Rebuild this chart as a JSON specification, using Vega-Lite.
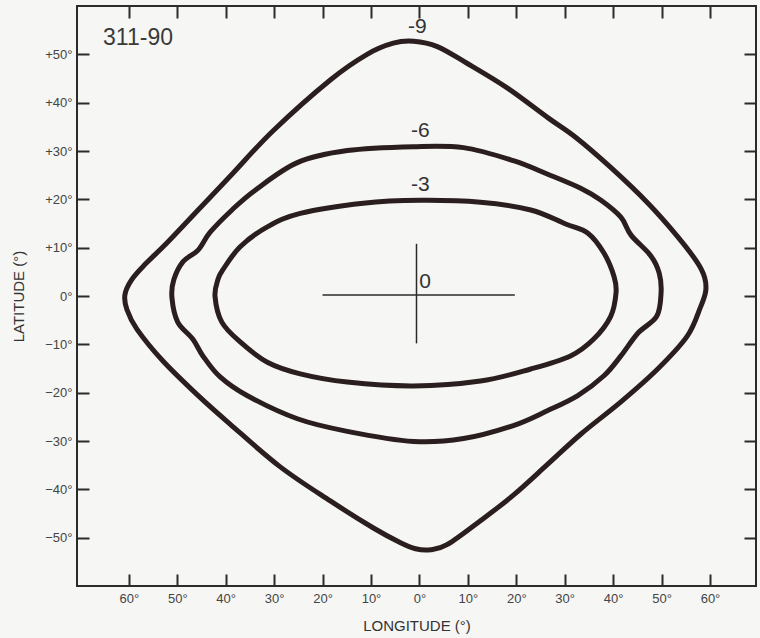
{
  "$schema": "https://vega.github.io/schema/vega-lite/v6.json",
  "width": 679,
  "height": 580,
  "autosize": {"type": "none"},
  "padding": {"left": 77, "top": 6, "right": 4, "bottom": 52},
  "background": "#f6f6f4",
  "config": {
    "view": {"stroke": "#2b2b2b", "strokeWidth": 2},
    "font": "Liberation Sans",
    "axis": {"grid": false, "domain": false}
  },
  "datasets": {
    "contours": [
      {"c": "-9", "i": 0, "lon": -60.8, "lat": 0.3},
      {"c": "-9", "i": 1, "lon": -59.4, "lat": 3.4},
      {"c": "-9", "i": 2, "lon": -56.7, "lat": 6.5},
      {"c": "-9", "i": 3, "lon": -52.1, "lat": 11.0},
      {"c": "-9", "i": 4, "lon": -45.3, "lat": 18.2},
      {"c": "-9", "i": 5, "lon": -38.5, "lat": 25.4},
      {"c": "-9", "i": 6, "lon": -30.2, "lat": 34.2},
      {"c": "-9", "i": 7, "lon": -18.4, "lat": 44.7},
      {"c": "-9", "i": 8, "lon": -10.8, "lat": 50.0},
      {"c": "-9", "i": 9, "lon": -5.4, "lat": 52.3},
      {"c": "-9", "i": 10, "lon": -1.2, "lat": 52.7},
      {"c": "-9", "i": 11, "lon": 3.7, "lat": 51.6},
      {"c": "-9", "i": 12, "lon": 9.9, "lat": 48.1},
      {"c": "-9", "i": 13, "lon": 18.2, "lat": 43.0},
      {"c": "-9", "i": 14, "lon": 26.5, "lat": 36.9},
      {"c": "-9", "i": 15, "lon": 32.3, "lat": 32.8},
      {"c": "-9", "i": 16, "lon": 39.5, "lat": 26.6},
      {"c": "-9", "i": 17, "lon": 47.2, "lat": 19.2},
      {"c": "-9", "i": 18, "lon": 53.4, "lat": 12.2},
      {"c": "-9", "i": 19, "lon": 57.4, "lat": 6.9},
      {"c": "-9", "i": 20, "lon": 58.9, "lat": 3.8},
      {"c": "-9", "i": 21, "lon": 59.1, "lat": 0.9},
      {"c": "-9", "i": 22, "lon": 58.0, "lat": -2.4},
      {"c": "-9", "i": 23, "lon": 55.3, "lat": -8.3},
      {"c": "-9", "i": 24, "lon": 49.2, "lat": -15.1},
      {"c": "-9", "i": 25, "lon": 41.6, "lat": -21.9},
      {"c": "-9", "i": 26, "lon": 33.3, "lat": -28.6},
      {"c": "-9", "i": 27, "lon": 26.5, "lat": -34.8},
      {"c": "-9", "i": 28, "lon": 19.4, "lat": -41.2},
      {"c": "-9", "i": 29, "lon": 12.6, "lat": -46.5},
      {"c": "-9", "i": 30, "lon": 5.8, "lat": -51.4},
      {"c": "-9", "i": 31, "lon": 2.3, "lat": -52.5},
      {"c": "-9", "i": 32, "lon": -0.8, "lat": -52.3},
      {"c": "-9", "i": 33, "lon": -4.0, "lat": -51.0},
      {"c": "-9", "i": 34, "lon": -9.5, "lat": -48.0},
      {"c": "-9", "i": 35, "lon": -18.4, "lat": -42.4},
      {"c": "-9", "i": 36, "lon": -28.8, "lat": -35.3},
      {"c": "-9", "i": 37, "lon": -39.1, "lat": -26.5},
      {"c": "-9", "i": 38, "lon": -45.9, "lat": -20.4},
      {"c": "-9", "i": 39, "lon": -53.0, "lat": -13.4},
      {"c": "-9", "i": 40, "lon": -58.3, "lat": -6.9},
      {"c": "-9", "i": 41, "lon": -60.4, "lat": -2.8},
      {"c": "-6", "i": 0, "lon": -51.1, "lat": -0.3},
      {"c": "-6", "i": 1, "lon": -50.7, "lat": 3.4},
      {"c": "-6", "i": 2, "lon": -48.8, "lat": 7.1},
      {"c": "-6", "i": 3, "lon": -45.7, "lat": 9.5},
      {"c": "-6", "i": 4, "lon": -43.2, "lat": 13.2},
      {"c": "-6", "i": 5, "lon": -38.7, "lat": 17.8},
      {"c": "-6", "i": 6, "lon": -33.9, "lat": 21.9},
      {"c": "-6", "i": 7, "lon": -25.2, "lat": 27.6},
      {"c": "-6", "i": 8, "lon": -14.9, "lat": 30.1},
      {"c": "-6", "i": 9, "lon": -1.2, "lat": 30.9},
      {"c": "-6", "i": 10, "lon": 9.1, "lat": 30.7},
      {"c": "-6", "i": 11, "lon": 19.4, "lat": 28.0},
      {"c": "-6", "i": 12, "lon": 26.5, "lat": 25.2},
      {"c": "-6", "i": 13, "lon": 33.3, "lat": 22.3},
      {"c": "-6", "i": 14, "lon": 37.5, "lat": 19.8},
      {"c": "-6", "i": 15, "lon": 41.6, "lat": 16.3},
      {"c": "-6", "i": 16, "lon": 43.7, "lat": 12.6},
      {"c": "-6", "i": 17, "lon": 47.8, "lat": 8.3},
      {"c": "-6", "i": 18, "lon": 49.5, "lat": 4.8},
      {"c": "-6", "i": 19, "lon": 49.9, "lat": 0.7},
      {"c": "-6", "i": 20, "lon": 49.0, "lat": -4.2},
      {"c": "-6", "i": 21, "lon": 45.1, "lat": -7.7},
      {"c": "-6", "i": 22, "lon": 41.6, "lat": -12.4},
      {"c": "-6", "i": 23, "lon": 38.1, "lat": -16.5},
      {"c": "-6", "i": 24, "lon": 32.7, "lat": -20.6},
      {"c": "-6", "i": 25, "lon": 26.5, "lat": -23.7},
      {"c": "-6", "i": 26, "lon": 19.4, "lat": -26.8},
      {"c": "-6", "i": 27, "lon": 9.1, "lat": -29.5},
      {"c": "-6", "i": 28, "lon": -1.2, "lat": -30.1},
      {"c": "-6", "i": 29, "lon": -14.9, "lat": -28.0},
      {"c": "-6", "i": 30, "lon": -25.2, "lat": -25.4},
      {"c": "-6", "i": 31, "lon": -35.6, "lat": -20.6},
      {"c": "-6", "i": 32, "lon": -41.2, "lat": -16.7},
      {"c": "-6", "i": 33, "lon": -44.7, "lat": -12.4},
      {"c": "-6", "i": 34, "lon": -46.8, "lat": -8.9},
      {"c": "-6", "i": 35, "lon": -49.9, "lat": -5.4},
      {"c": "-3", "i": 0, "lon": -42.2, "lat": -0.1},
      {"c": "-3", "i": 1, "lon": -41.6, "lat": 3.4},
      {"c": "-3", "i": 2, "lon": -40.6, "lat": 5.4},
      {"c": "-3", "i": 3, "lon": -37.0, "lat": 10.2},
      {"c": "-3", "i": 4, "lon": -31.4, "lat": 14.3},
      {"c": "-3", "i": 5, "lon": -24.6, "lat": 17.1},
      {"c": "-3", "i": 6, "lon": -11.6, "lat": 19.2},
      {"c": "-3", "i": 7, "lon": 0.2, "lat": 19.8},
      {"c": "-3", "i": 8, "lon": 12.6, "lat": 19.4},
      {"c": "-3", "i": 9, "lon": 23.0, "lat": 17.8},
      {"c": "-3", "i": 10, "lon": 30.2, "lat": 14.9},
      {"c": "-3", "i": 11, "lon": 34.8, "lat": 13.0},
      {"c": "-3", "i": 12, "lon": 38.1, "lat": 8.9},
      {"c": "-3", "i": 13, "lon": 40.2, "lat": 4.0},
      {"c": "-3", "i": 14, "lon": 40.6, "lat": 0.7},
      {"c": "-3", "i": 15, "lon": 39.5, "lat": -4.2},
      {"c": "-3", "i": 16, "lon": 36.0, "lat": -8.9},
      {"c": "-3", "i": 17, "lon": 31.2, "lat": -12.4},
      {"c": "-3", "i": 18, "lon": 23.0, "lat": -15.1},
      {"c": "-3", "i": 19, "lon": 12.6, "lat": -17.6},
      {"c": "-3", "i": 20, "lon": -1.2, "lat": -18.6},
      {"c": "-3", "i": 21, "lon": -14.9, "lat": -17.8},
      {"c": "-3", "i": 22, "lon": -24.6, "lat": -16.1},
      {"c": "-3", "i": 23, "lon": -31.4, "lat": -13.7},
      {"c": "-3", "i": 24, "lon": -37.0, "lat": -9.5},
      {"c": "-3", "i": 25, "lon": -40.8, "lat": -5.4}
    ],
    "cross": [
      {"lon": -20.0, "lat": 0.2, "lon2": 19.7, "lat2": 0.2},
      {"lon": -0.6, "lat": 10.8, "lon2": -0.6, "lat2": -9.8}
    ],
    "labels": [
      {"text": "-9", "lon": -0.4, "lat": 55.7, "kind": "contour"},
      {"text": "-6", "lon": 0.2, "lat": 34.2, "kind": "contour"},
      {"text": "-3", "lon": 0.2, "lat": 22.9, "kind": "contour"},
      {"text": "0", "lon": 1.2, "lat": 3.0, "kind": "contour"},
      {"text": "311-90", "lon": -58.1, "lat": 53.3, "kind": "id"}
    ]
  },
  "resolve": {"axis": {"x": "independent", "y": "independent"}},
  "layer": [
    {
      "data": {"name": "contours"},
      "mark": {"type": "line", "interpolate": "cardinal-closed", "strokeWidth": 5, "color": "#2a1e1e", "strokeJoin": "round"},
      "encoding": {
        "x": {
          "field": "lon", "type": "quantitative",
          "scale": {"domain": [-70.7, 69.5], "nice": false, "zero": false},
          "axis": {
            "orient": "bottom",
            "values": [-60, -50, -40, -30, -20, -10, 0, 10, 20, 30, 40, 50, 60],
            "labelExpr": "abs(datum.value) + '°'",
            "tickSize": -12, "tickWidth": 2, "tickColor": "#2b2b2b",
            "labelFontSize": 13, "labelColor": "#444444", "labelPadding": 18,
            "title": "LONGITUDE (°)", "titleFontSize": 15, "titleFontWeight": "normal",
            "titleColor": "#333333", "titlePadding": 13
          }
        },
        "y": {
          "field": "lat", "type": "quantitative",
          "scale": {"domain": [-60, 60], "nice": false, "zero": false},
          "axis": {
            "orient": "left",
            "values": [-50, -40, -30, -20, -10, 0, 10, 20, 30, 40, 50],
            "labelExpr": "datum.value > 0 ? '+' + datum.value + '°' : (datum.value < 0 ? '−' + abs(datum.value) + '°' : '0°')",
            "tickSize": -12, "tickWidth": 2, "tickColor": "#2b2b2b",
            "labelFontSize": 13, "labelColor": "#444444", "labelPadding": 17,
            "title": "LATITUDE (°)", "titleFontSize": 15, "titleFontWeight": "normal",
            "titleColor": "#333333", "titlePadding": 18
          }
        },
        "detail": {"field": "c", "type": "nominal"},
        "order": {"field": "i", "type": "quantitative"}
      }
    },
    {
      "data": {"name": "cross"},
      "mark": {"type": "rule", "strokeWidth": 1.5, "color": "#2b2b2b"},
      "encoding": {
        "x": {
          "field": "lon", "type": "quantitative",
          "axis": {
            "orient": "top",
            "values": [-60, -50, -40, -30, -20, -10, 0, 10, 20, 30, 40, 50, 60],
            "labels": false, "title": null,
            "tickSize": -12, "tickWidth": 2, "tickColor": "#2b2b2b"
          }
        },
        "y": {
          "field": "lat", "type": "quantitative",
          "axis": {
            "orient": "right",
            "values": [-50, -40, -30, -20, -10, 0, 10, 20, 30, 40, 50],
            "labels": false, "title": null,
            "tickSize": -12, "tickWidth": 2, "tickColor": "#2b2b2b"
          }
        },
        "x2": {"field": "lon2"},
        "y2": {"field": "lat2"}
      }
    },
    {
      "data": {"name": "labels"},
      "transform": [{"filter": "datum.kind == 'contour'"}],
      "mark": {"type": "text", "fontSize": 21, "color": "#333333", "align": "center", "baseline": "middle"},
      "encoding": {
        "x": {"field": "lon", "type": "quantitative", "axis": null},
        "y": {"field": "lat", "type": "quantitative", "axis": null},
        "text": {"field": "text"}
      }
    },
    {
      "data": {"name": "labels"},
      "transform": [{"filter": "datum.kind == 'id'"}],
      "mark": {"type": "text", "fontSize": 23, "color": "#3a3a3a", "align": "center", "baseline": "middle"},
      "encoding": {
        "x": {"field": "lon", "type": "quantitative", "axis": null},
        "y": {"field": "lat", "type": "quantitative", "axis": null},
        "text": {"field": "text"}
      }
    }
  ]
}
